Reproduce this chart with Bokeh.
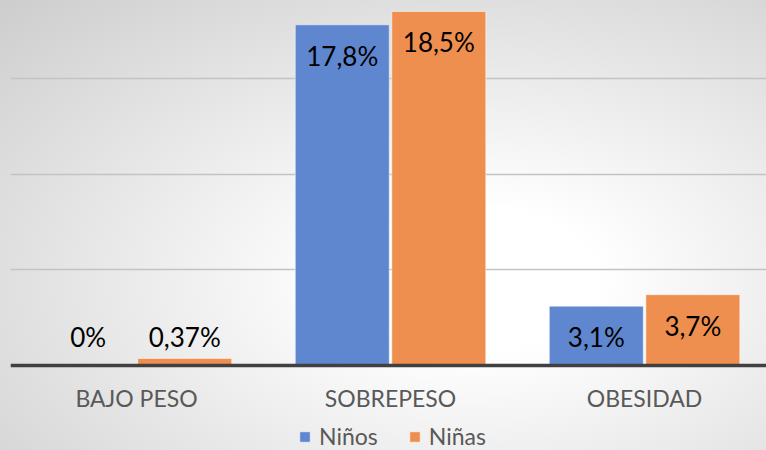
from bokeh.plotting import figure
from bokeh.models import ColumnDataSource, FixedTicker, Legend, LegendItem, Range1d, Span
from bokeh.transform import dodge
from bokeh.core.properties import value
from bokeh.embed import file_html
from bokeh.resources import INLINE

categories = ["BAJO PESO", "SOBREPESO", "OBESIDAD"]
ninos = [0.0, 17.8, 3.1]
ninas = [0.37, 18.5, 3.7]
series_names = ["Niños", "Niñas"]
grid_ticks = [5, 10, 15]

BLUE = "#5f87cf"
ORANGE = "#ef8f4f"
FONT = "Lato"

W, H = 766, 450
BASE_PX = 365          # pixel row of the zero line
UNIT_PX = 19.14        # pixels per percentage point

xi = list(range(len(categories)))


def fmt(v):
    return f"{v:g}".replace(".", ",") + "%"


def label_y(v):
    return max(v - 1.62, 1.51)


src = ColumnDataSource(data=dict(
    xi=xi,
    ninos=ninos,
    ninas=ninas,
    ninos_lbl=[fmt(v) for v in ninos],
    ninas_lbl=[fmt(v) for v in ninas],
    ninos_ly=[label_y(v) for v in ninos],
    ninas_ly=[label_y(v) for v in ninas],
))

cat_src = ColumnDataSource(data=dict(xi=xi, cat=categories,
                                     y=[-(397 - BASE_PX) / UNIT_PX] * len(categories)))

p = figure(width=W, height=H, output_backend="svg", toolbar_location=None,
           x_range=Range1d(-0.496, 2.480),
           y_range=Range1d(-(H - BASE_PX) / UNIT_PX, BASE_PX / UNIT_PX),
           min_border_left=10, min_border_right=0, min_border_top=0, min_border_bottom=0)

p.background_fill_alpha = 0
p.border_fill_alpha = 0
p.outline_line_color = None
p.styles = {"background-image": "radial-gradient(ellipse farthest-corner at 62% 62%, #ffffff 0%, #ffffff 18%, #cdcdcd 100%)"}

p.xaxis.visible = False
p.yaxis.visible = False
p.ygrid.ticker = FixedTicker(ticks=grid_ticks)
p.ygrid.grid_line_color = "#c3c3c3"
p.ygrid.grid_line_width = 1.5
p.xgrid.grid_line_color = None

w = 0.37
r1 = p.vbar(x=dodge("xi", -0.19, range=p.x_range), top="ninos", width=w, source=src,
            fill_color=BLUE, line_color="#ffffff", line_alpha=0.5, line_width=1)
r2 = p.vbar(x=dodge("xi", 0.19, range=p.x_range), top="ninas", width=w, source=src,
            fill_color=ORANGE, line_color="#ffffff", line_alpha=0.5, line_width=1)

p.add_layout(Span(location=0, dimension="width", line_color="#404040", line_width=3.5))

p.text(x=dodge("xi", -0.19, range=p.x_range), y="ninos_ly", text="ninos_lbl", source=src,
       text_align="center", text_baseline="middle", text_font=value(FONT),
       text_font_size="26px", text_color="#000000")
p.text(x=dodge("xi", 0.19, range=p.x_range), y="ninas_ly", text="ninas_lbl", source=src,
       text_align="center", text_baseline="middle", text_font=value(FONT),
       text_font_size="26px", text_color="#000000")

# category labels
p.text(x="xi", y="y", text="cat", source=cat_src,
       text_align="center", text_baseline="middle", text_font=value(FONT),
       text_font_size="23px", text_color="#595959")

legend = Legend(items=[LegendItem(label=series_names[0], renderers=[r1]),
                       LegendItem(label=series_names[1], renderers=[r2])],
                orientation="horizontal", location=(288, 0))
legend.label_text_font = FONT
legend.label_text_font_size = "23px"
legend.label_text_color = "#595959"
legend.glyph_width = 13
legend.glyph_height = 13
legend.label_standoff = 8
legend.spacing = 30
legend.padding = 0
legend.margin = 0
legend.background_fill_alpha = 0
legend.border_line_color = None
p.add_layout(legend, "center")

open("out.html", "w").write(file_html(p, INLINE))
